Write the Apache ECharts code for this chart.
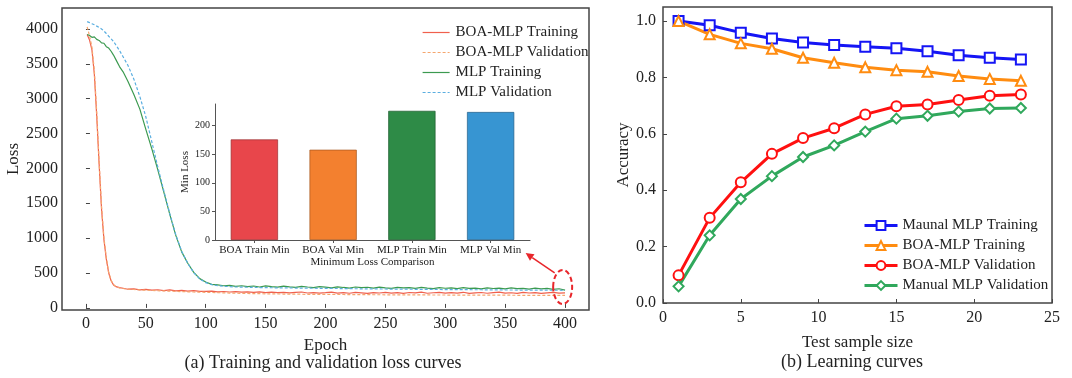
<!DOCTYPE html>
<html><head><meta charset="utf-8">
<script src="https://cdn.jsdelivr.net/npm/echarts@6/dist/echarts.min.js"></script>
<style>html,body{margin:0;padding:0;background:#fff}#c{width:1072px;height:378px}</style>
</head><body><div id="c"></div><script>
// ---------- (a) loss curves ----------
const epochs = [1,3,5,7,9,11,13,15,17,19,21,23,25,28,31,35,40,45,50,55,60,65,70,75,80,85,90,95,
100,105,110,115,120,125,130,135,140,145,150,155,160,165,170,175,180,185,190,195,200,205,210,215,220,225,230,235,240,245,250,255,260,265,270,275,280,285,290,295,300,305,310,315,320,325,330,335,340,345,350,355,360,365,370,375,380,385,390,395,400];
const boaTrain = [3920,3840,3700,3350,2750,2060,1420,980,700,500,390,330,305,290,282,268,274,259,266,254,260,249,258,245,251,242,249,238,
236,240,231,235,228,233,226,230,222,229,220,226,218,224,215,222,228,214,220,212,218,225,213,219,210,222,216,208,220,214,224,212,218,209,221,215,226,210,217,222,211,219,213,224,208,216,221,210,218,225,212,217,209,222,214,219,208,216,223,211,215];
const boaVal = [4030,3900,3740,3400,2800,2100,1460,1010,720,510,395,335,305,288,278,270,264,258,254,250,246,243,240,237,234,231,228,226,
224,221,218,216,213,211,209,207,205,204,202,201,200,199,198,197,196,195,195,194,193,193,192,192,191,191,190,190,189,189,188,188,188,187,187,186,186,186,185,185,185,184,184,184,183,183,183,183,182,182,182,182,181,181,181,181,180,180,180,180,180];
const mlpTrain = [3920,3905,3880,3885,3850,3835,3800,3795,3745,3725,3680,3625,3560,3460,3385,3250,3060,2850,2560,2280,1980,1660,1340,1040,800,640,510,420,
372,338,330,318,322,310,318,305,314,300,316,306,298,312,302,295,309,300,292,305,297,288,302,293,285,300,290,296,283,298,288,280,295,286,292,280,294,284,277,291,282,288,276,290,280,285,274,287,278,283,272,286,276,281,270,284,273,279,266,275,255];
const mlpVal = [4105,4090,4075,4060,4040,4020,4000,3970,3935,3895,3860,3820,3770,3690,3600,3480,3280,3030,2740,2380,2020,1680,1350,1050,810,640,505,415,
362,334,318,310,305,301,298,296,294,292,291,289,288,287,286,285,284,283,282,281,280,279,278,277,276,275,274,273,272,272,271,270,269,268,268,267,266,265,265,264,263,263,262,261,261,260,260,259,258,258,257,257,256,256,255,255,254,254,253,253,252];
const lossNames = ['BOA-MLP Training','BOA-MLP Validation','MLP Training','MLP Validation'];
const epochTicks = [0,50,100,150,200,250,300,350,400];
const lossTicks = [0,500,1000,1500,2000,2500,3000,3500,4000];

// ---------- inset ----------
const barCats = ['BOA Train Min','BOA Val Min','MLP Train Min','MLP Val Min'];
const barVals = [176,158,226,224];
const minLossTicks = [0,50,100,150,200];

// ---------- (b) learning curves ----------
const sampleSizes = [1,3,5,7,9,11,13,15,17,19,21,23];
const manualTrain = [1.000,0.985,0.959,0.938,0.924,0.915,0.909,0.904,0.893,0.879,0.870,0.864];
const boaTrainAcc = [1.000,0.953,0.921,0.902,0.870,0.852,0.836,0.826,0.820,0.805,0.795,0.788];
const boaValAcc   = [0.098,0.302,0.428,0.529,0.585,0.620,0.669,0.698,0.704,0.720,0.735,0.740];
const manualVal   = [0.059,0.240,0.369,0.450,0.518,0.559,0.608,0.654,0.664,0.679,0.690,0.692];
const accNames = ['Maunal MLP Training','BOA-MLP Training ','BOA-MLP Validation ','Manual MLP Validation'];
const accTicks = [0,0.2,0.4,0.6,0.8,1.0];

const F = 'Liberation Serif';
const TXT = '#222';
const FRAME = '#444';

const lossColors = ['#F0604D','#F5A66E','#3C9A50','#5AAEE0'];
const lossDash = ['solid',[3,2],'solid',[3,2]];
const lossData = [boaTrain, boaVal, mlpTrain, mlpVal];
const barColors = ['#E8464B','#F3802F','#2E8B47','#3795D2'];
const barBorders = ['#9a2e31','#a5561f','#1d5a2e','#245f87'];
const accColors = ['#1515F5','#FF8C10','#FF1010','#30A85C'];
const accSymbols = ['emptyRect','emptyTriangle','emptyCircle','emptyDiamond'];
const accData = [manualTrain, boaTrainAcc, boaValAcc, manualVal];

const series = [];
lossData.forEach((arr, k) => {
  series.push({
    name: lossNames[k], type: 'line', xAxisIndex: 0, yAxisIndex: 0,
    data: epochs.map((e, i) => [e, arr[i]]),
    symbol: 'none', showSymbol: false, color: lossColors[k],
    lineStyle: { width: 1.2, color: lossColors[k], type: lossDash[k] },
    z: 3
  });
});
series.push({
  type: 'bar', xAxisIndex: 1, yAxisIndex: 1, barWidth: '60%',
  data: barVals.map((v, i) => ({ value: v, itemStyle: { color: barColors[i], borderColor: barBorders[i], borderWidth: 0.7 } }))
});
accData.forEach((arr, k) => {
  series.push({
    name: accNames[k], type: 'line', xAxisIndex: 2, yAxisIndex: 2,
    data: sampleSizes.map((s, i) => [s, arr[i]]),
    symbol: accSymbols[k], symbolSize: 10, showSymbol: true, color: accColors[k],
    lineStyle: { width: 3, color: accColors[k] },
    itemStyle: { color: accColors[k], borderWidth: 1.2 }
  });
});

const tickLabel = { fontFamily: F, fontSize: 16, color: TXT };
const nameStyle = { fontFamily: F, fontSize: 17, color: TXT };

const option = {
  animation: false,
  backgroundColor: '#fff',
  grid: [
    { left: 62, top: 8, width: 527, height: 302, show: true, borderColor: FRAME, borderWidth: 1.5 },
    { left: 215, top: 104, width: 315, height: 136 },
    { left: 663, top: 7, width: 389, height: 296, show: true, borderColor: FRAME, borderWidth: 1.5 }
  ],
  xAxis: [
    { gridIndex: 0, type: 'value', min: -20, max: 420,
      axisLine: { show: false },
      axisTick: { show: true, inside: true, length: 4, customValues: epochTicks, lineStyle: { color: FRAME } },
      axisLabel: Object.assign({ customValues: epochTicks, margin: 6, formatter: v => String(v) }, tickLabel),
      splitLine: { show: false },
      name: 'Epoch', nameLocation: 'middle', nameGap: 16, nameTextStyle: nameStyle },
    { gridIndex: 1, type: 'category', data: barCats,
      axisLine: { show: true, lineStyle: { color: '#555', width: 1 } },
      axisTick: { show: true, alignWithLabel: true, length: 3, lineStyle: { color: '#555' } },
      axisLabel: { fontFamily: F, fontSize: 11, color: TXT, margin: 5, interval: 0 },
      name: 'Minimum Loss Comparison', nameLocation: 'middle', nameGap: 17,
      nameTextStyle: { fontFamily: F, fontSize: 11, color: TXT } },
    { gridIndex: 2, type: 'value', min: 0, max: 25, interval: 5,
      axisLine: { show: false },
      axisTick: { show: true, inside: true, length: 4, lineStyle: { color: FRAME } },
      axisLabel: Object.assign({ margin: 7 }, tickLabel),
      splitLine: { show: false },
      name: 'Test sample size', nameLocation: 'middle', nameGap: 31, nameTextStyle: nameStyle }
  ],
  yAxis: [
    { gridIndex: 0, type: 'value', min: -30, max: 4300,
      axisLine: { show: false },
      axisTick: { show: true, inside: true, length: 4, customValues: lossTicks, lineStyle: { color: FRAME } },
      axisLabel: Object.assign({ customValues: lossTicks, margin: 4, formatter: v => String(v) }, tickLabel),
      splitLine: { show: false },
      name: 'Loss', nameLocation: 'middle', nameGap: 34, nameTextStyle: nameStyle },
    { gridIndex: 1, type: 'value', min: 0, max: 238,
      axisLine: { show: true, lineStyle: { color: '#555', width: 1 } },
      axisTick: { show: true, length: 3, customValues: minLossTicks, lineStyle: { color: '#555' } },
      axisLabel: { customValues: minLossTicks, fontFamily: F, fontSize: 10, color: TXT, margin: 5 },
      splitLine: { show: false },
      name: 'Min Loss', nameLocation: 'middle', nameGap: 22,
      nameTextStyle: { fontFamily: F, fontSize: 11, color: TXT } },
    { gridIndex: 2, type: 'value', min: 0, max: 1.05,
      axisLine: { show: false },
      axisTick: { show: true, inside: true, length: 4, customValues: accTicks, lineStyle: { color: FRAME } },
      axisLabel: Object.assign({ customValues: accTicks, margin: 7, formatter: v => v.toFixed(1) }, tickLabel),
      splitLine: { show: false },
      name: 'Accuracy', nameLocation: 'middle', nameGap: 28, nameTextStyle: nameStyle }
  ],
  legend: [
    { data: lossNames, orient: 'vertical', left: 417, top: 20, itemWidth: 27, itemHeight: 10, itemGap: 5,
      itemStyle: { color: 'transparent', borderColor: 'transparent', borderWidth: 0, opacity: 0 },
      lineStyle: { width: 1.2 },
      textStyle: { fontFamily: F, fontSize: 15, color: TXT, padding: [0, 0, 0, 1] } },
    { data: accNames, orient: 'vertical', left: 858, top: 213, itemWidth: 33, itemHeight: 11, itemGap: 5,
      lineStyle: { width: 3 },
      textStyle: { fontFamily: F, fontSize: 15, color: TXT, padding: [0, 0, 0, 0] } }
  ],
  series: series
};

const chart = echarts.init(document.getElementById('c'), null, { renderer: 'canvas' });
chart.setOption(option);

// annotation: dashed ellipse around the end of the curves, arrow to the inset
const c = chart.convertToPixel({ xAxisIndex: 0, yAxisIndex: 0 }, [398, 300]);
const tail = [c[0] - 8, c[1] - 14];
const tip = [c[0] - 37, c[1] - 34];
const dx = tip[0] - tail[0], dy = tip[1] - tail[1];
const L = Math.hypot(dx, dy), ux = dx / L, uy = dy / L;
const hb = [tip[0] - 8 * ux, tip[1] - 8 * uy];
const px = -uy * 4, py = ux * 4;

chart.setOption({
  graphic: [
    { type: 'ellipse', shape: { cx: c[0], cy: c[1], rx: 9.5, ry: 17 },
      style: { fill: 'none', stroke: '#E8262B', lineWidth: 2, lineDash: [5, 3] }, z: 100 },
    { type: 'line', shape: { x1: tail[0], y1: tail[1], x2: hb[0], y2: hb[1] },
      style: { stroke: '#E8262B', lineWidth: 1.5 }, z: 100 },
    { type: 'polygon', shape: { points: [tip, [hb[0] + px, hb[1] + py], [hb[0] - px, hb[1] - py]] },
      style: { fill: '#E8262B' }, z: 100 },
    { type: 'text', x: 323, y: 363, style: { text: '(a) Training and validation loss curves', font: '18px "Liberation Serif"', fill: TXT, textAlign: 'center', textVerticalAlign: 'middle' } },
    { type: 'text', x: 852, y: 362, style: { text: '(b) Learning curves', font: '18px "Liberation Serif"', fill: TXT, textAlign: 'center', textVerticalAlign: 'middle' } }
  ]
});
</script></body></html>
